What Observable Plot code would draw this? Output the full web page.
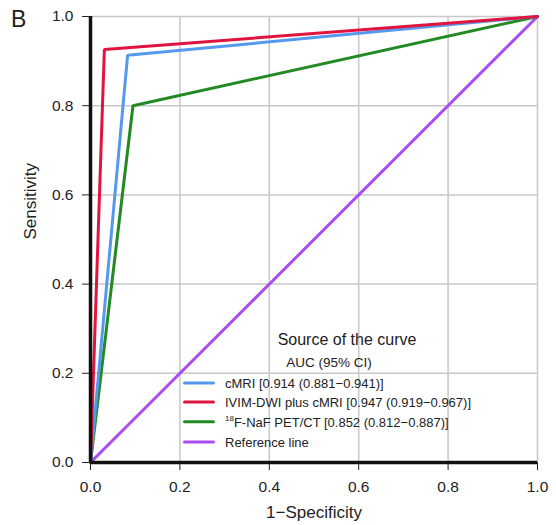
<!DOCTYPE html>
<html>
<head>
<meta charset="utf-8">
<script src="https://cdn.jsdelivr.net/npm/d3@7"></script>
<script src="https://cdn.jsdelivr.net/npm/@observablehq/plot@0.6"></script>
<style>
  html, body { margin: 0; padding: 0; background: #fff; }
  #wrap { position: relative; width: 556px; height: 525px; font-family: "Liberation Sans", Arial, Helvetica, sans-serif; color: #222; }
  #panel { position: absolute; left: 11px; top: 6px; font-size: 23px; color: #222; }
  #legend { position: absolute; left: 0; top: 0; width: 556px; height: 525px; color: #222; pointer-events: none; }
  #legend .t { position: absolute; white-space: nowrap; transform: translate(-50%, -50%); }
  #legend .row { position: absolute; left: 183px; display: flex; align-items: center; transform: translateY(-50%); font-size: 13px; white-space: nowrap; }
  #legend .sw { width: 32px; height: 3px; border-radius: 2px; margin-right: 10px; }
</style>
</head>
<body>
<div id="wrap">
  <div id="chart"></div>
  <div id="panel">B</div>
  <div id="legend"></div>
</div>
<script>
// Series (1-Specificity, Sensitivity)
const seriesNames = ["cMRI", "IVIM-DWI plus cMRI", "18F-NaF PET/CT", "Reference line"];
const legendLabels = [
  "cMRI [0.914 (0.881\u22120.941)]",
  "IVIM-DWI plus cMRI [0.947 (0.919\u22120.967)]",
  "<sup style='font-size:8px'>18</sup>F-NaF PET/CT [0.852 (0.812\u22120.887)]",
  "Reference line"
];
const colors = ["#5599ee", "#e0143f", "#228a22", "#aa4cf0"];
const cmriFpr = [0, 0.083, 1];
const cmriSens = [0, 0.913, 1];
const ivimFpr = [0, 0.031, 1];
const ivimSens = [0, 0.926, 1];
const nafFpr = [0, 0.095, 1];
const nafSens = [0, 0.800, 1];
const refFpr = [0, 1];
const refSens = [0, 1];
const xTicks = [0, 0.2, 0.4, 0.6, 0.8, 1.0];
const yTicks = [0, 0.2, 0.4, 0.6, 0.8, 1.0];

const toRows = (name, xs, ys) => xs.map((x, i) => ({name, x, y: ys[i]}));
const data = [
  ...toRows(seriesNames[3], refFpr, refSens),
  ...toRows(seriesNames[2], nafFpr, nafSens),
  ...toRows(seriesNames[0], cmriFpr, cmriSens),
  ...toRows(seriesNames[1], ivimFpr, ivimSens)
];

const chart = Plot.plot({
  width: 556,
  height: 525,
  marginLeft: 90,
  marginRight: 19,
  marginTop: 16,
  marginBottom: 63,
  style: {fontFamily: "'Liberation Sans', Arial, Helvetica, sans-serif", fontSize: "15px", color: "#222"},
  x: {domain: [0, 1], ticks: xTicks, tickFormat: d3.format(".1f")},
  y: {domain: [0, 1], ticks: yTicks, tickFormat: d3.format(".1f")},
  color: {domain: seriesNames, range: colors},
  marks: [
    Plot.gridX(xTicks, {stroke: "#c8c8c8", strokeOpacity: 1, strokeWidth: 1.5}),
    Plot.gridY(yTicks, {stroke: "#c8c8c8", strokeOpacity: 1, strokeWidth: 1.5}),
    Plot.axisX({ticks: xTicks, tickFormat: d3.format(".1f"), tickSize: 8, tickPadding: 10, fontSize: 15.5, label: null}),
    Plot.axisY({ticks: yTicks, tickFormat: d3.format(".1f"), tickSize: 8, tickPadding: 9, fontSize: 15.5, label: null}),
    Plot.text(["1\u2212Specificity"], {frameAnchor: "bottom", dy: 55, fontSize: 17, fill: "#222"}),
    Plot.text(["Sensitivity"], {frameAnchor: "left", dx: -60, rotate: -90, fontSize: 17, fill: "#222"}),
    Plot.line(data, {x: "x", y: "y", z: "name", stroke: d => d.name, strokeWidth: 3, strokeLinejoin: "miter"}),
    Plot.ruleX([0], {stroke: "#111", strokeWidth: 3.5}),
    Plot.ruleY([0], {stroke: "#111", strokeWidth: 3.5})
  ]
});
document.getElementById("chart").appendChild(chart);

const lg = document.getElementById("legend");
const rowY = [383, 402, 422, 442];
lg.innerHTML =
  `<div class="t" style="left:347px;top:340px;font-size:16px">Source of the curve</div>` +
  `<div class="t" style="left:329px;top:362px;font-size:13.5px">AUC (95% CI)</div>` +
  legendLabels.map((l, i) => `<div class="row" style="top:${rowY[i]}px"><div class="sw" style="background:${colors[i]}"></div><div>${l}</div></div>`).join("");
</script>
</body>
</html>
